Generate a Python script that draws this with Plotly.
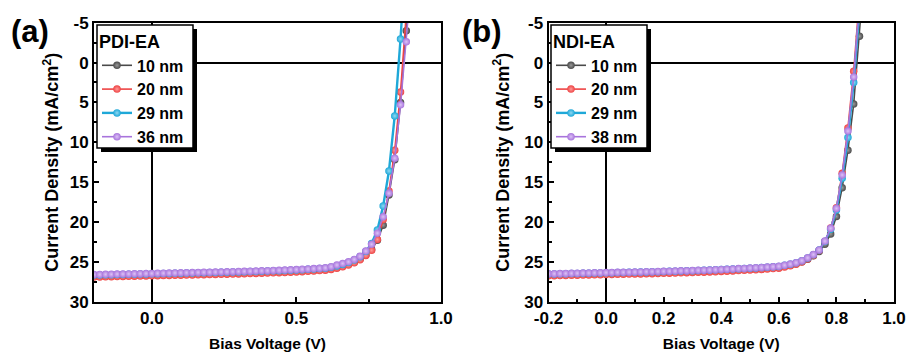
import plotly.graph_objects as go

W, H = 909, 356

voltage = [-0.20, -0.18, -0.16, -0.14, -0.12, -0.10, -0.08, -0.06, -0.04, -0.02,
           0.00, 0.02, 0.04, 0.06, 0.08, 0.10, 0.12, 0.14, 0.16, 0.18,
           0.20, 0.22, 0.24, 0.26, 0.28, 0.30, 0.32, 0.34, 0.36, 0.38,
           0.40, 0.42, 0.44, 0.46, 0.48, 0.50, 0.52, 0.54, 0.56, 0.58,
           0.60, 0.62, 0.64, 0.66, 0.68, 0.70, 0.72, 0.74, 0.76, 0.78,
           0.80, 0.82, 0.84, 0.86, 0.88, 0.90]

# tick labels
y_ticks = [-5, 0, 5, 10, 15, 20, 25, 30]
y_ticktext = ["-5", "0", "5", "10", "15", "20", "25", "30"]
xa_ticks = [0.0, 0.5, 1.0]
xa_ticktext = ["0.0", "0.5", "1.0"]
xb_ticks = [-0.2, 0.0, 0.2, 0.4, 0.6, 0.8, 1.0]
xb_ticktext = ["-0.2", "0.0", "0.2", "0.4", "0.6", "0.8", "1.0"]

# ---- (a) PDI-EA ----
pdi_labels = ["10 nm", "20 nm", "29 nm", "36 nm"]
pdi_10 = [26.80, 26.79, 26.77, 26.76, 26.74, 26.73, 26.71, 26.70, 26.68, 26.67,
          26.65, 26.64, 26.62, 26.61, 26.59, 26.58, 26.56, 26.55, 26.53, 26.51,
          26.50, 26.48, 26.46, 26.45, 26.43, 26.41, 26.39, 26.37, 26.35, 26.33,
          26.31, 26.28, 26.26, 26.23, 26.20, 26.17, 26.13, 26.09, 26.05, 26.00,
          25.95, 25.84, 25.70, 25.52, 25.30, 25.02, 24.65, 24.15, 23.45, 22.30,
          20.40, 16.60, 12.20, 5.00, -4.00, -13.5]
pdi_20 = [26.90, 26.89, 26.87, 26.86, 26.84, 26.83, 26.81, 26.80, 26.78, 26.77,
          26.75, 26.74, 26.72, 26.71, 26.69, 26.68, 26.66, 26.65, 26.63, 26.61,
          26.60, 26.58, 26.56, 26.55, 26.53, 26.51, 26.49, 26.47, 26.45, 26.43,
          26.41, 26.38, 26.36, 26.33, 26.30, 26.27, 26.23, 26.19, 26.15, 26.10,
          26.05, 25.95, 25.80, 25.62, 25.40, 25.12, 24.75, 24.20, 23.55, 22.20,
          19.70, 16.10, 11.00, 3.70, -6.00, -16.0]
pdi_29 = [26.65, 26.64, 26.62, 26.61, 26.59, 26.58, 26.56, 26.55, 26.53, 26.52,
          26.50, 26.49, 26.47, 26.46, 26.44, 26.43, 26.41, 26.40, 26.38, 26.36,
          26.35, 26.33, 26.31, 26.30, 26.28, 26.26, 26.24, 26.22, 26.20, 26.18,
          26.16, 26.13, 26.11, 26.08, 26.05, 26.02, 25.98, 25.94, 25.90, 25.85,
          25.80, 25.68, 25.52, 25.32, 25.08, 24.78, 24.35, 23.70, 22.70, 21.00,
          18.00, 13.60, 6.70, -2.95, -14.0, -26.0]
pdi_36 = [26.60, 26.59, 26.57, 26.56, 26.54, 26.53, 26.51, 26.50, 26.48, 26.47,
          26.45, 26.44, 26.42, 26.41, 26.39, 26.38, 26.36, 26.35, 26.33, 26.31,
          26.30, 26.28, 26.26, 26.25, 26.23, 26.21, 26.19, 26.17, 26.15, 26.13,
          26.11, 26.08, 26.06, 26.03, 26.00, 25.97, 25.93, 25.89, 25.85, 25.80,
          25.75, 25.60, 25.40, 25.20, 25.00, 24.70, 24.30, 23.65, 22.80, 21.40,
          19.35, 16.40, 12.00, 5.30, -2.60, -11.5]

# ---- (b) NDI-EA ----
ndi_labels = ["10 nm", "20 nm", "29 nm", "38 nm"]
ndi_10 = [26.65, 26.64, 26.62, 26.61, 26.59, 26.58, 26.56, 26.55, 26.53, 26.52,
          26.50, 26.49, 26.47, 26.46, 26.44, 26.43, 26.41, 26.39, 26.38, 26.36,
          26.34, 26.32, 26.30, 26.28, 26.26, 26.24, 26.21, 26.19, 26.16, 26.13,
          26.10, 26.07, 26.04, 26.00, 25.97, 25.93, 25.89, 25.85, 25.80, 25.75,
          25.69, 25.56, 25.42, 25.24, 25.00, 24.66, 24.24, 23.70, 22.80, 21.50,
          19.30, 15.70, 11.00, 5.20, -3.30, -13.0]
ndi_20 = [26.75, 26.74, 26.72, 26.71, 26.69, 26.68, 26.66, 26.65, 26.63, 26.62,
          26.60, 26.59, 26.57, 26.56, 26.54, 26.53, 26.51, 26.49, 26.48, 26.46,
          26.44, 26.42, 26.40, 26.38, 26.36, 26.34, 26.31, 26.29, 26.26, 26.23,
          26.20, 26.17, 26.14, 26.10, 26.07, 26.03, 25.99, 25.95, 25.90, 25.85,
          25.79, 25.65, 25.50, 25.30, 25.03, 24.65, 24.20, 23.58, 22.45, 20.75,
          18.20, 13.90, 8.20, 1.10, -7.50, -17.5]
ndi_29 = [26.52, 26.51, 26.49, 26.48, 26.46, 26.45, 26.43, 26.42, 26.40, 26.39,
          26.37, 26.36, 26.34, 26.33, 26.31, 26.30, 26.28, 26.26, 26.25, 26.23,
          26.21, 26.19, 26.17, 26.15, 26.13, 26.11, 26.08, 26.06, 26.03, 26.00,
          25.97, 25.94, 25.91, 25.87, 25.84, 25.80, 25.76, 25.72, 25.68, 25.63,
          25.57, 25.44, 25.30, 25.12, 24.87, 24.52, 24.10, 23.52, 22.45, 20.90,
          18.50, 14.50, 9.40, 2.50, -6.00, -16.0]
ndi_38 = [26.50, 26.49, 26.47, 26.46, 26.44, 26.43, 26.41, 26.40, 26.38, 26.37,
          26.35, 26.34, 26.32, 26.31, 26.29, 26.28, 26.26, 26.24, 26.23, 26.21,
          26.19, 26.17, 26.15, 26.13, 26.11, 26.09, 26.06, 26.04, 26.01, 25.98,
          25.95, 25.92, 25.89, 25.85, 25.82, 25.78, 25.74, 25.70, 25.66, 25.61,
          25.55, 25.42, 25.28, 25.10, 24.85, 24.50, 24.08, 23.50, 22.40, 20.80,
          18.30, 14.10, 8.60, 1.80, -6.80, -16.5]

colors = ["#4a4a4a", "#ee4444", "#1fa8d8", "#a874dc"]
centers = ["#9a9a9a", "#ff9a9a", "#8fd8f2", "#dcc2f6"]
widths = [1.6, 1.6, 2.4, 1.6]

FONT = "Arial, Liberation Sans, sans-serif"

fig = go.Figure()

def add_panel(series, labels, xa, ya, legend):
    for i, (ys, lab) in enumerate(zip(series, labels)):
        fig.add_trace(go.Scatter(
            x=voltage, y=ys, name=lab, mode="lines+markers",
            xaxis=xa, yaxis=ya, legend=legend,
            line=dict(color=colors[i], width=widths[i]),
            marker=dict(symbol="circle", size=7.5, color=colors[i],
                        gradient=dict(type="radial", color=centers[i]),
                        line=dict(width=0)),
            cliponaxis=True,
        ))

add_panel([pdi_10, pdi_20, pdi_29, pdi_36], pdi_labels, "x", "y", "legend")
add_panel([ndi_10, ndi_20, ndi_29, ndi_38], ndi_labels, "x2", "y2", "legend2")

ybot = 1 - 301.7 / H
ytop = 1 - 22.7 / H
doma = [94 / W, 441 / W]
domb = [548.5 / W, 894 / W]

tickfont = dict(family=FONT, size=17, color="black", weight="bold")
xtitlefont = dict(family=FONT, size=15.5, color="black", weight="bold")
ytitlefont = dict(family=FONT, size=18, color="black", weight="bold")

common_axis = dict(showline=True, linecolor="black", linewidth=2, mirror=True,
                   showgrid=False, ticks="inside", ticklen=5, tickwidth=1.5,
                   tickcolor="black", tickfont=tickfont, automargin=False,
                   zeroline=True, zerolinecolor="black", zerolinewidth=2)

def minor(d):
    return dict(dtick=d, tick0=0, ticks="inside", ticklen=3, tickcolor="black", tickwidth=1.5)

legfont = dict(family=FONT, size=16, color="black", weight="bold")
legtitle = dict(family=FONT, size=18, color="black", weight="bold")

fig.update_layout(
    width=W, height=H, margin=dict(l=0, r=0, t=0, b=0, autoexpand=False),
    paper_bgcolor="white", plot_bgcolor="white",
    xaxis=dict(domain=doma, range=[-0.2, 1.0], tickmode="array",
               tickvals=xa_ticks, ticktext=xa_ticktext, minor=minor(0.25),
               title=dict(text="Bias Voltage (V)", font=xtitlefont, standoff=11),
               anchor="y", **common_axis),
    yaxis=dict(domain=[ybot, ytop], range=[30, -5], tickmode="array",
               tickvals=y_ticks, ticktext=y_ticktext, minor=minor(2.5),
               title=dict(text="Current Density (mA/cm<sup>2</sup>)", font=ytitlefont, standoff=6),
               anchor="x", **common_axis),
    xaxis2=dict(domain=domb, range=[-0.2, 1.0], tickmode="array",
                tickvals=xb_ticks, ticktext=xb_ticktext, minor=minor(0.1),
                title=dict(text="Bias Voltage (V)", font=xtitlefont, standoff=11),
                anchor="y2", **common_axis),
    yaxis2=dict(domain=[ybot, ytop], range=[30, -5], tickmode="array",
                tickvals=y_ticks, ticktext=y_ticktext, minor=minor(2.5),
                title=dict(text="Current Density (mA/cm<sup>2</sup>)", font=ytitlefont, standoff=10),
                anchor="x2", **common_axis),
    legend=dict(x=97 / W, y=1 - 25 / H, xanchor="left", yanchor="top",
                bgcolor="rgba(0,0,0,0)", borderwidth=0,
                font=legfont, title=dict(text="PDI-EA", font=legtitle),
                itemwidth=30, tracegroupgap=0),
    legend2=dict(x=551 / W, y=1 - 25 / H, xanchor="left", yanchor="top",
                 bgcolor="rgba(0,0,0,0)", borderwidth=0,
                 font=legfont, title=dict(text="NDI-EA", font=legtitle),
                 itemwidth=30, tracegroupgap=0),
    showlegend=True,
)

# legend frames with drop shadows
for bx in [97, 551]:
    fig.add_shape(type="rect", xref="paper", yref="paper",
                  x0=(bx + 4) / W, x1=(bx + 100) / W, y0=1 - 152 / H, y1=1 - 29 / H,
                  fillcolor="black", line=dict(width=0), layer="above")
    fig.add_shape(type="rect", xref="paper", yref="paper",
                  x0=bx / W, x1=(bx + 96) / W, y0=1 - 148 / H, y1=1 - 25 / H,
                  fillcolor="white", line=dict(color="black", width=1.5), layer="above")

fig.add_annotation(text="(a)", xref="paper", yref="paper", x=9 / W, y=1 - 31 / H,
                   xanchor="left", yanchor="middle", showarrow=False,
                   font=dict(family=FONT, size=31, color="black", weight="bold"))
fig.add_annotation(text="(b)", xref="paper", yref="paper", x=460 / W, y=1 - 31 / H,
                   xanchor="left", yanchor="middle", showarrow=False,
                   font=dict(family=FONT, size=31, color="black", weight="bold"))

fig.write_html("out.html")
